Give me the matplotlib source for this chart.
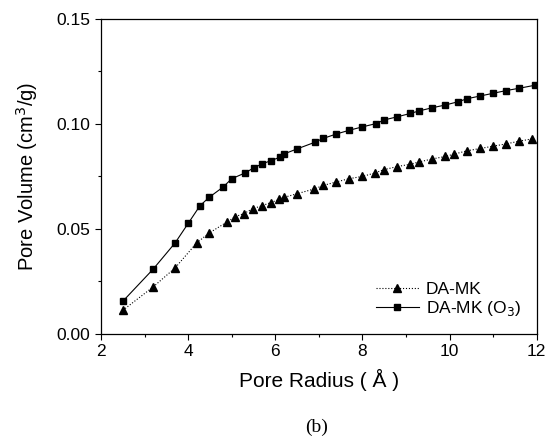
import numpy as np
import matplotlib.pyplot as plt
from matplotlib.ticker import MultipleLocator

# DA-MK (O3) - squares
r_o3 = [2.5, 3.2, 3.7, 4.0, 4.27, 4.48, 4.8, 5.0, 5.3, 5.5, 5.7, 5.9, 6.1, 6.2, 6.5,
        6.9, 7.1, 7.4, 7.7, 8.0, 8.3, 8.5, 8.8, 9.1, 9.3, 9.6, 9.9, 10.2, 10.4,
        10.7, 11.0, 11.3, 11.6, 11.95]
v_o3 = [0.0155, 0.0309, 0.0433, 0.0526, 0.0610, 0.0650, 0.0699, 0.0739, 0.0766, 0.0790,
        0.0810, 0.0825, 0.0841, 0.0857, 0.0881, 0.0912, 0.0931, 0.0952, 0.0970, 0.0986,
        0.1001, 0.1019, 0.1034, 0.1050, 0.1062, 0.1077, 0.1090, 0.1106, 0.1120,
        0.1133, 0.1146, 0.1159, 0.1170, 0.1184]

# DA-MK - triangles
r_mk = [2.5, 3.2, 3.7, 4.2, 4.48, 4.9, 5.08, 5.28, 5.48, 5.69, 5.89, 6.09, 6.2, 6.49,
        6.89, 7.1, 7.39, 7.69, 8.0, 8.28, 8.49, 8.8, 9.1, 9.3, 9.6, 9.9, 10.1, 10.4,
        10.7, 11.0, 11.3, 11.6, 11.9]
v_mk = [0.0112, 0.0224, 0.0314, 0.0434, 0.0480, 0.0534, 0.0558, 0.0573, 0.0596, 0.0610,
        0.0625, 0.0640, 0.0650, 0.0667, 0.0690, 0.0707, 0.0723, 0.0739, 0.0750, 0.0766,
        0.0782, 0.0797, 0.0808, 0.0819, 0.0833, 0.0845, 0.0856, 0.0872, 0.0883,
        0.0894, 0.0905, 0.0918, 0.0929]

plt.rcParams['font.family'] = ['Liberation Sans', 'DejaVu Sans']

fig = plt.figure(figsize=(5.58, 4.41), dpi=100)
ax = fig.add_axes([0.181, 0.243, 0.781, 0.714])

ax.plot(r_mk, v_mk, linestyle=':', lw=0.8, color='black', marker='^', markersize=5.5,
        label='DA-MK')
ax.plot(r_o3, v_o3, linestyle='-', lw=0.8, color='black', marker='s', markersize=4.6,
        label='DA-MK (O$_3$)')

ax.set_xlim(2, 12)
ax.set_ylim(0, 0.15)
ax.xaxis.set_major_locator(MultipleLocator(2))
ax.xaxis.set_minor_locator(MultipleLocator(1))
ax.yaxis.set_major_locator(MultipleLocator(0.05))
ax.yaxis.set_minor_locator(MultipleLocator(0.025))
ax.yaxis.set_major_formatter(plt.FormatStrFormatter('%.2f'))
ax.tick_params(which='both', direction='out', labelsize=12.5, width=0.8)
ax.tick_params(which='major', length=4)
ax.tick_params(which='minor', length=2.5)
for s in ax.spines.values():
    s.set_linewidth(0.9)

ax.set_xlabel('Pore Radius ( Å )', fontsize=15, labelpad=7)
ax.set_ylabel('Pore Volume (cm$^3$/g)', fontsize=14.5, labelpad=12)

ax.legend(loc='lower right', frameon=False, fontsize=12.5, handlelength=2.5,
          handletextpad=0.4, borderaxespad=0.5, labelspacing=0.1)

fig.text(0.568, 0.032, '(b)', fontsize=14, family='Liberation Serif',
         ha='center', va='center')

fig.savefig('out.png', dpi=100)
